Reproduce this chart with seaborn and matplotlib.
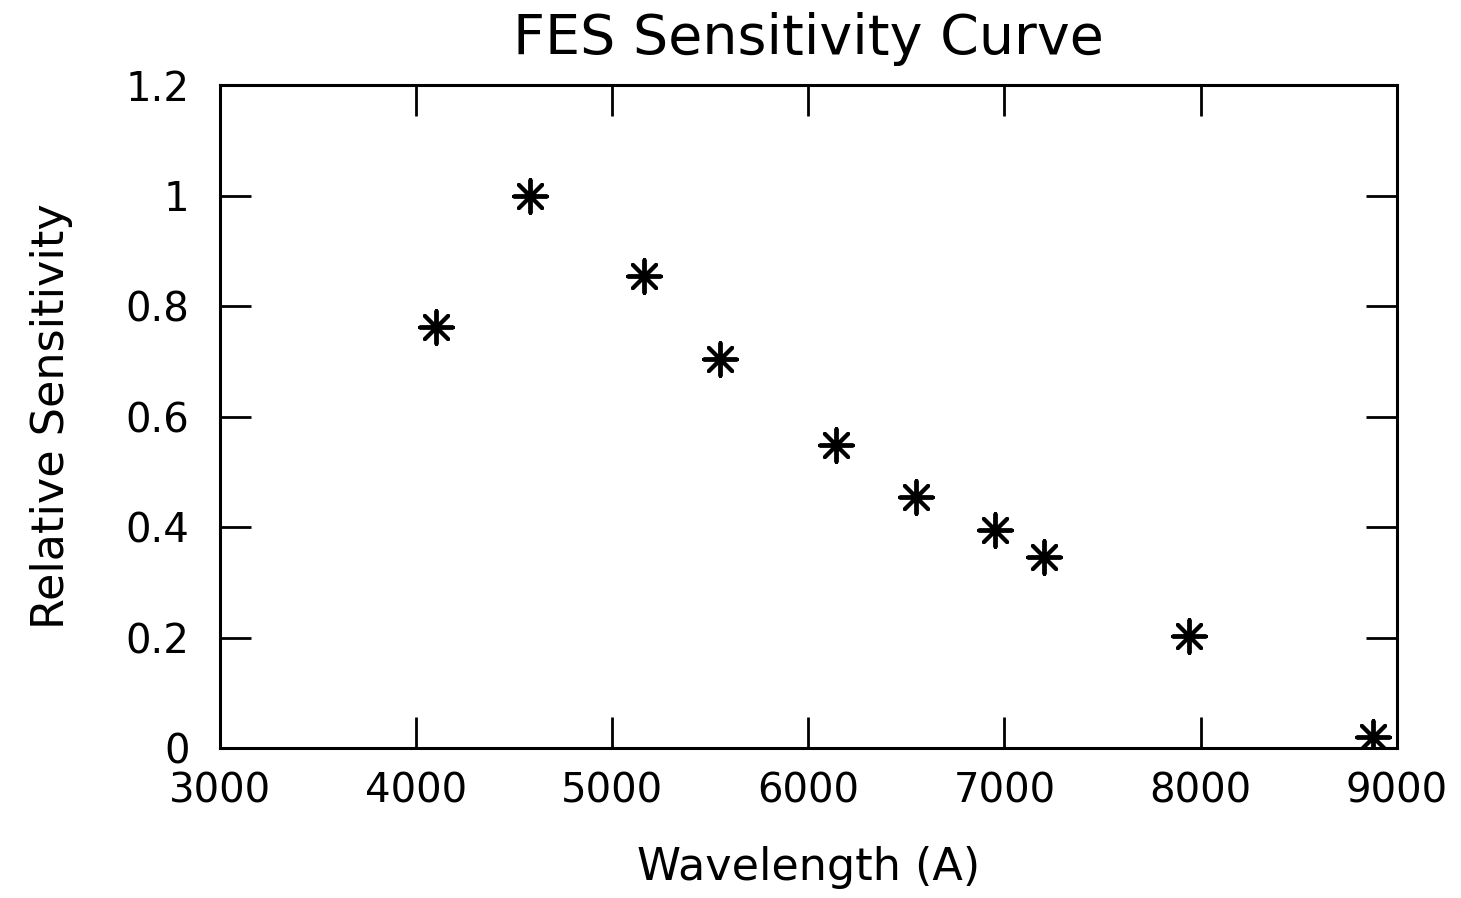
import matplotlib
matplotlib.use("Agg")
import matplotlib.pyplot as plt
import seaborn as sns
import pandas as pd

wavelength = [4100, 4580, 5160, 5550, 6140, 6550, 6950, 7200, 7940, 8880]
sensitivity = [0.762, 1.0, 0.855, 0.705, 0.548, 0.455, 0.395, 0.345, 0.203, 0.02]
x_ticks = [3000, 4000, 5000, 6000, 7000, 8000, 9000]
y_ticks = [0, 0.2, 0.4, 0.6, 0.8, 1.0, 1.2]
y_tick_labels = ["0", "0.2", "0.4", "0.6", "0.8", "1", "1.2"]

sns.set_theme(style="white")
plt.rcParams["font.family"] = ["DejaVu Sans"]

df = pd.DataFrame({"Wavelength": wavelength, "Sensitivity": sensitivity})

fig = plt.figure(figsize=(14.61, 8.98), dpi=100)
ax = fig.add_axes([0.1506, 0.167, 0.8054, 0.7383])

sns.scatterplot(data=df, x="Wavelength", y="Sensitivity", ax=ax,
                marker=(8, 2, 0), s=560, color="black", edgecolor="black",
                linewidth=2.8, legend=False)

ax.set_xlim(3000, 9000)
ax.set_ylim(0, 1.2)
ax.set_xticks(x_ticks)
ax.set_yticks(y_ticks)
ax.set_yticklabels(y_tick_labels)
ax.tick_params(axis="both", which="major", direction="in", length=22, width=2,
               top=True, right=True, bottom=True, left=True,
               labelsize=29, colors="black")
ax.tick_params(axis="x", pad=17)
ax.tick_params(axis="y", pad=22)
for sp in ax.spines.values():
    sp.set_visible(True)
    sp.set_color("black")
    sp.set_linewidth(2.2)

ax.set_title("FES Sensitivity Curve", fontsize=40, pad=22, color="black")
ax.set_xlabel("Wavelength (A)", fontsize=32, labelpad=25, color="black")
ax.set_ylabel("Relative Sensitivity", fontsize=32, labelpad=38, color="black")

fig.savefig("out.png", dpi=100, facecolor="white")
